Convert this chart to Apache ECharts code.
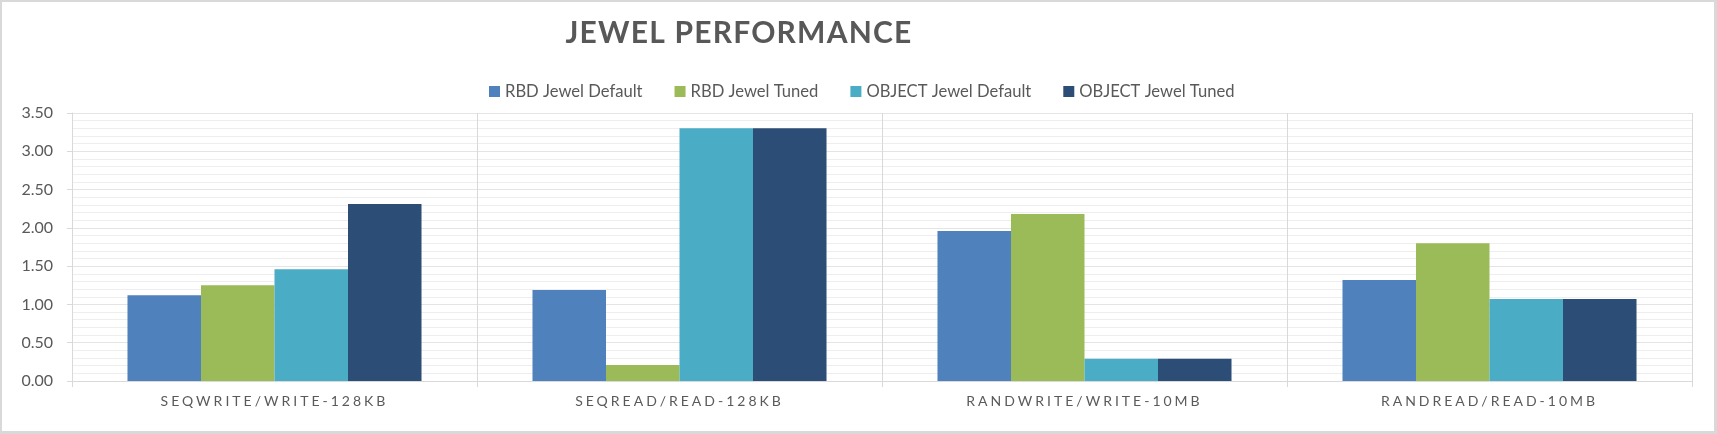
<!DOCTYPE html>
<html>
<head>
<meta charset="utf-8">
<script src="https://cdn.jsdelivr.net/npm/echarts@6/dist/echarts.min.js"></script>
<style>
html,body{margin:0;padding:0;background:#fff;}
#chart{width:1717px;height:434px;}
</style>
</head>
<body>
<div id="chart"></div>
<script>
// ---- data ----
const categories = ['SEQWRITE/WRITE-128KB', 'SEQREAD/READ-128KB', 'RANDWRITE/WRITE-10MB', 'RANDREAD/READ-10MB'];
const seriesNames = ['RBD Jewel Default', 'RBD Jewel Tuned', 'OBJECT Jewel Default', 'OBJECT Jewel Tuned'];
const rbdJewelDefault = [1.12, 1.19, 1.96, 1.32];
const rbdJewelTuned = [1.25, 0.21, 2.18, 1.80];
const objectJewelDefault = [1.46, 3.30, 0.29, 1.07];
const objectJewelTuned = [2.31, 3.30, 0.29, 1.07];
const yTicks = [0, 3.5, 0.5]; // min, max, interval
const titleText = 'JEWEL PERFORMANCE';

// letter-spacing for the spaced texts (tagged by their colour)
(function () {
  const proto = CanvasRenderingContext2D.prototype;
  const orig = proto.fillText;
  const spacing = { '#5a5a5a': '3px', '#585858': '1.2px' };
  proto.fillText = function (t, x, y, m) {
    if (!('letterSpacing' in this)) {
      return m === undefined ? orig.call(this, t, x, y) : orig.call(this, t, x, y, m);
    }
    const fs = String(this.fillStyle).toLowerCase();
    const want = spacing[fs] || '0px';
    this.letterSpacing = want;
    const f = this.font; this.font = f;
    return m === undefined ? orig.call(this, t, x, y) : orig.call(this, t, x, y, m);
  };
})();

const colors = ['#4f81bd', '#9bbb59', '#4bacc6', '#2c4d75'];
const values = [rbdJewelDefault, rbdJewelTuned, objectJewelDefault, objectJewelTuned];

const chart = echarts.init(document.getElementById('chart'), null, { renderer: 'canvas' });
chart.setOption({
  backgroundColor: '#ffffff',
  animation: false,
  color: colors,
  title: {
    text: titleText,
    left: 734,
    top: 13,
    textAlign: 'center',
    textStyle: { fontFamily: 'Lato', fontWeight: 'bold', fontSize: 30, color: '#585858' }
  },
  legend: {
    data: seriesNames,
    left: 484,
    top: 78,
    icon: 'rect',
    itemWidth: 11,
    itemHeight: 11,
    itemGap: 32,
    textStyle: { fontFamily: 'Lato', fontSize: 16.6, color: '#595959' }
  },
  grid: { left: 72, right: 25, top: 113, bottom: 53, containLabel: false },
  xAxis: {
    type: 'category',
    data: categories,
    boundaryGap: true,
    axisLine: { show: true, lineStyle: { color: '#d9d9d9', width: 1 } },
    axisTick: { show: true, length: 6, lineStyle: { color: '#d9d9d9' } },
    splitLine: { show: true, lineStyle: { color: '#d9d9d9', width: 1 } },
    axisLabel: { fontFamily: 'Lato', fontSize: 14, color: '#5a5a5a', margin: 13 }
  },
  yAxis: {
    type: 'value',
    min: yTicks[0],
    max: yTicks[1],
    interval: yTicks[2],
    axisLine: { show: true, lineStyle: { color: '#d9d9d9' } },
    axisTick: { show: true, length: 5, lineStyle: { color: '#d9d9d9' } },
    minorTick: { show: false, splitNumber: 5 },
    splitLine: { show: true, lineStyle: { color: '#e4e4e4' } },
    minorSplitLine: { show: true, lineStyle: { color: '#eeeeee' } },
    axisLabel: {
      fontFamily: 'Lato', fontSize: 16, color: '#595959', margin: 19,
      formatter: v => v.toFixed(2)
    }
  },
  series: seriesNames.map((name, i) => ({
    name: name,
    type: 'bar',
    data: values[i],
    barGap: '0%',
    barCategoryGap: '27.4%',
    itemStyle: { color: colors[i] }
  })),
  graphic: [
    { type: 'rect', shape: { x: 0, y: 0, width: 1717, height: 2 }, style: { fill: '#d9d9d9' }, silent: true },
    { type: 'rect', shape: { x: 0, y: 431, width: 1717, height: 3 }, style: { fill: '#d9d9d9' }, silent: true },
    { type: 'rect', shape: { x: 0, y: 0, width: 2, height: 434 }, style: { fill: '#d9d9d9' }, silent: true },
    { type: 'rect', shape: { x: 1714, y: 0, width: 3, height: 434 }, style: { fill: '#d9d9d9' }, silent: true }
  ]
});
</script>
</body>
</html>
